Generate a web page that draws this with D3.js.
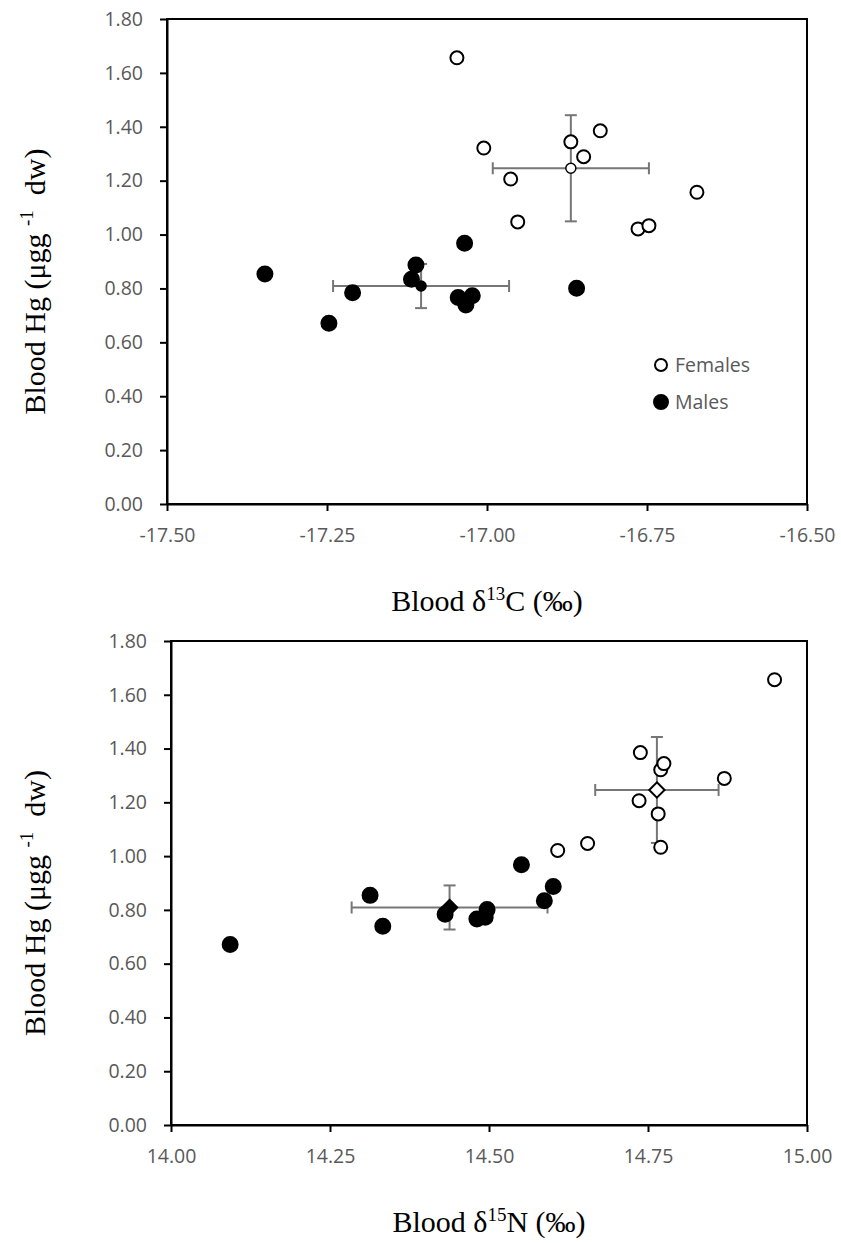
<!DOCTYPE html>
<html>
<head>
<meta charset="utf-8">
<script src="https://cdn.jsdelivr.net/npm/d3@7"></script>
<style>
body{margin:0;background:#fff}
svg{display:block}
</style>
</head>
<body>
<div id="chart"></div>
<script>
// tick labels
var hgTicks = [0, 0.2, 0.4, 0.6, 0.8, 1.0, 1.2, 1.4, 1.6, 1.8];
var carbonTicks = [-17.5, -17.25, -17.0, -16.75, -16.5];
var nitrogenTicks = [14.0, 14.25, 14.5, 14.75, 15.0];

// females (one entry per bird)
var femHg = [1.656, 1.321, 1.206, 1.047, 1.344, 1.289, 1.385, 1.021, 1.033, 1.157];
var femC  = [-17.047, -17.005, -16.963, -16.952, -16.869, -16.849, -16.823, -16.764, -16.747, -16.672];
var femN  = [14.949, 14.770, 14.736, 14.655, 14.775, 14.870, 14.738, 14.608, 14.770, 14.766];

// males
var maleHg = [0.854, 0.784, 0.671, 0.887, 0.834, 0.968, 0.766, 0.773, 0.739, 0.801];
var maleC  = [-17.347, -17.210, -17.247, -17.111, -17.118, -17.035, -17.045, -17.023, -17.033, -16.860];
var maleN  = [14.313, 14.431, 14.093, 14.601, 14.587, 14.551, 14.481, 14.494, 14.333, 14.497];

// group means and SD  [d13C, d15N, Hg]
var femMean  = [-16.869, 14.764, 1.246];
var femSd    = [0.122, 0.097, 0.197];
var maleMean = [-17.103, 14.438, 0.809];
var maleSd   = [0.1375, 0.154, 0.082];

var W = 841, H = 1243;
var GREY = "#595959";
var BAR = "#767676";

var svg = d3.select("#chart").append("svg")
  .attr("width", W)
  .attr("height", H);

function panel(box, xDomain, xTicks, xKey, meanShape, xTitleEnd, xSup, legend){
  var x = d3.scaleLinear().domain(xDomain).range([box.left, box.right]);
  var y = d3.scaleLinear().domain([0, 1.8]).range([box.bottom, box.top]);
  var g = svg.append("g");

  // frame
  g.append("rect")
    .attr("x", box.left).attr("y", box.top)
    .attr("width", box.right - box.left).attr("height", box.bottom - box.top)
    .attr("fill", "none").attr("stroke", "#000").attr("stroke-width", 2);

  var yAxis = g.append("g")
    .attr("transform", "translate(" + box.left + ",0)")
    .call(d3.axisLeft(y).tickValues(hgTicks).tickSize(7).tickPadding(17)
      .tickSizeOuter(0).tickFormat(function(d){ return d.toFixed(2); }));
  var xAxis = g.append("g")
    .attr("transform", "translate(0," + box.bottom + ")")
    .call(d3.axisBottom(x).tickValues(xTicks).tickSize(7).tickPadding(17)
      .tickSizeOuter(0).tickFormat(function(d){ return d.toFixed(2); }));
  [yAxis, xAxis].forEach(function(a){
    a.select(".domain").attr("stroke", "#000").attr("stroke-width", 2);
    a.selectAll(".tick line").attr("stroke", "#000").attr("stroke-width", 2);
    a.selectAll(".tick text")
      .attr("fill", GREY)
      .style("font-family", "'Open Sans', sans-serif")
      .style("font-size", "19.5px");
  });

  var idx = xKey == "C" ? 0 : 1;
  var groups = [
    {xs: xKey == "C" ? femC : femN, ys: femHg, mean: femMean, sd: femSd, fill: "#fff", r: 6.5},
    {xs: xKey == "C" ? maleC : maleN, ys: maleHg, mean: maleMean, sd: maleSd, fill: "#000", r: 7.5}
  ];

  // error bars first, points on top
  groups.forEach(function(gr){
    var mx = gr.mean[idx], my = gr.mean[2];
    var sx = gr.sd[idx], sy = gr.sd[2];
    var eb = g.append("g").attr("stroke", BAR).attr("stroke-width", 2).attr("fill", "none");
    eb.append("line").attr("x1", x(mx - sx)).attr("x2", x(mx + sx)).attr("y1", y(my)).attr("y2", y(my));
    eb.append("line").attr("x1", x(mx)).attr("x2", x(mx)).attr("y1", y(my - sy)).attr("y2", y(my + sy));
    [mx - sx, mx + sx].forEach(function(v){
      eb.append("line").attr("x1", x(v)).attr("x2", x(v)).attr("y1", y(my) - 6).attr("y2", y(my) + 6);
    });
    [my - sy, my + sy].forEach(function(v){
      eb.append("line").attr("x1", x(mx) - 6).attr("x2", x(mx) + 6).attr("y1", y(v)).attr("y2", y(v));
    });
  });

  groups.forEach(function(gr){
    g.append("g").selectAll("circle")
      .data(d3.range(gr.xs.length))
      .join("circle")
      .attr("cx", function(i){ return x(gr.xs[i]); })
      .attr("cy", function(i){ return y(gr.ys[i]); })
      .attr("r", gr.r)
      .attr("fill", gr.fill)
      .attr("stroke", "#000")
      .attr("stroke-width", 2);
  });

  // mean markers
  groups.forEach(function(gr){
    var cx = x(gr.mean[idx]), cy = y(gr.mean[2]);
    if(meanShape == "circle"){
      g.append("circle").attr("cx", cx).attr("cy", cy).attr("r", 5)
        .attr("fill", gr.fill).attr("stroke", "#000").attr("stroke-width", 1.5);
    } else {
      g.append("path")
        .attr("d", d3.symbol().type(d3.symbolDiamond2).size(150)())
        .attr("transform", "translate(" + cx + "," + cy + ")")
        .attr("fill", gr.fill).attr("stroke", "#000").attr("stroke-width", 2);
    }
  });

  // axis titles
  var xt = svg.append("text")
    .attr("x", (box.left + box.right) / 2)
    .attr("y", box.bottom + 107)
    .attr("text-anchor", "middle")
    .style("font-family", "'Liberation Serif', 'Times New Roman', serif")
    .style("font-size", "30px")
    .attr("fill", "#000");
  xt.append("tspan").text("Blood δ");
  xt.append("tspan").attr("dy", -11).style("font-size", "19px").text(xSup);
  xt.append("tspan").attr("dy", 11).text(xTitleEnd);

  var cy = (box.top + box.bottom) / 2 + 20;
  var yt = svg.append("text")
    .attr("transform", "translate(45," + cy + ") rotate(-90)")
    .attr("text-anchor", "middle")
    .style("font-family", "'Liberation Serif', 'Times New Roman', serif")
    .style("font-size", "30px")
    .style("white-space", "pre")
    .attr("fill", "#000");
  yt.append("tspan").text("Blood Hg (μgg ");
  yt.append("tspan").attr("dy", -12).style("font-size", "19px").text("-1");
  yt.append("tspan").attr("dy", 12).text("  dw)");

  if(legend){
    var lg = g.append("g");
    var items = [{label: "Females", fill: "#fff", r: 6, y: 365}, {label: "Males", fill: "#000", r: 7, y: 402}];
    items.forEach(function(it){
      lg.append("circle").attr("cx", 661).attr("cy", it.y).attr("r", it.r)
        .attr("fill", it.fill).attr("stroke", "#000").attr("stroke-width", 2);
      lg.append("text").attr("x", 675).attr("y", it.y + 7)
        .attr("fill", GREY)
        .style("font-family", "'Open Sans', sans-serif")
        .style("font-size", "19.5px")
        .text(it.label);
    });
  }
}

panel({left: 167, right: 807, top: 19, bottom: 504}, [-17.5, -16.5], carbonTicks, "C", "circle", "C (‰)", "13", true);
panel({left: 171, right: 807, top: 641, bottom: 1125}, [14.0, 15.0], nitrogenTicks, "N", "diamond", "N (‰)", "15", false);
</script>
</body>
</html>
